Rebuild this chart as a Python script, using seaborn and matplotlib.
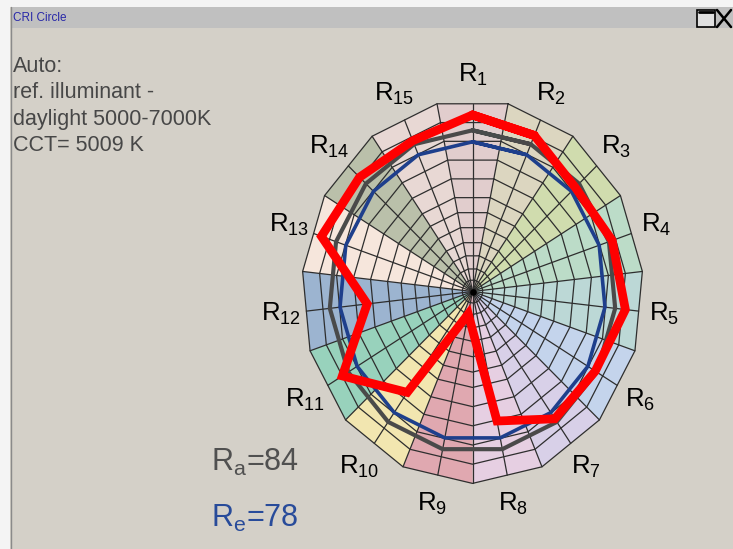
import numpy as np
import pandas as pd
import matplotlib
matplotlib.use("Agg")
import matplotlib.pyplot as plt
from matplotlib.patches import Rectangle
from matplotlib.lines import Line2D
import seaborn as sns

# Special colour rendering indices of the test colour samples
sample_ids = [str(i) for i in range(1, 16)]
r_values = [92, 89, 81, 86, 90, 83, 82, 69, 12, 65, 88, 62, 93, 89, 86]
ra_value = 84
re_value = 78

# Pastel tint of each test colour sample, R1..R15
sector_colors = ["#e1cdcd", "#dcd6c0", "#d0dcae", "#bcdcc8", "#bcd8d6",
                 "#c4d4ec", "#d8d0e8", "#e6cfe2", "#e0a8b0", "#f2e6b0",
                 "#98d2bc", "#9cb4d0", "#f6e6dc", "#bac0aa", "#e8d8d4"]

# Radial grid levels of the web
grid_levels = [6, 12, 19, 26, 34, 42, 50, 60, 70, 80, 90, 100]

info_lines = ["Auto:", "ref. illuminant -", "daylight 5000-7000K", "CCT= 5009 K"]
window_title = "CRI Circle"

sns.set_theme(style="white")
plt.rcParams["font.family"] = ["Liberation Sans", "DejaVu Sans"]
plt.rcParams["mathtext.default"] = "regular"

W, H = 733, 549
BG = "#d4d0c8"
fig = plt.figure(figsize=(W / 100, H / 100), dpi=100)
fig.patch.set_facecolor(BG)

# Chart centre and scale (pixels per index unit), slightly squashed horizontally
cx, cy = 472.5, 291.5
sy = 1.919
sx = 1.708
ax = fig.add_axes([0, 0, 1, 1])
ax.set_facecolor(BG)

n = len(sample_ids)
step = 360.0 / n
centers = np.deg2rad(np.arange(n) * step)
bounds = np.deg2rad(np.arange(n) * step + step / 2)
half = np.deg2rad(step / 2)


def xy(r, th):
    return np.asarray(r) * np.sin(th), np.asarray(r) * np.cos(th)


# Coloured sectors
for i in range(n):
    x0, y0 = xy(100, bounds[i - 1])
    x1, y1 = xy(100, bounds[i])
    ax.fill([0, x0, x1], [0, y0, y1], color=sector_colors[i], lw=0, zorder=1)

# Web rings and spokes
grid_kw = dict(color="#2e2e2e", lw=0.9, zorder=2)
for lev in grid_levels:
    gx, gy = xy(lev, np.append(bounds, bounds[0]))
    ax.plot(gx, gy, **grid_kw)
for th in bounds:
    ax.plot(*[[0, v] for v in xy(100, th)], **grid_kw)
for th in centers:
    ax.plot(*[[0, v] for v in xy(100 * np.cos(half), th)], **grid_kw)
ax.scatter([0], [0], s=14, color="black", zorder=3)


def ring_frame(values):
    idx = list(range(n)) + [0, 1]
    vals = np.asarray(values, dtype=float)
    px, py = xy(vals[idx], centers[idx])
    return pd.DataFrame({"x": px, "y": py})


ra_df = ring_frame([ra_value] * n)
re_df = ring_frame([re_value] * n)
ri_df = ring_frame(r_values)

sns.lineplot(data=ra_df, x="x", y="y", sort=False, estimator=None, ax=ax,
             color="#4a4a4a", linewidth=3.0, solid_joinstyle="miter", zorder=4)
sns.lineplot(data=re_df, x="x", y="y", sort=False, estimator=None, ax=ax,
             color="#1e3f8c", linewidth=2.6, solid_joinstyle="miter", zorder=5)
sns.lineplot(data=ri_df, x="x", y="y", sort=False, estimator=None, ax=ax,
             color="#ff0000", linewidth=6.3, solid_joinstyle="miter", zorder=6)
ax.set_xlim(-cx / sx, (W - cx) / sx)
ax.set_ylim(-(H - cy) / sy, cy / sy)
ax.axis("off")

# Sample labels around the web
for sid, th in zip(sample_ids, centers):
    lx, ly = xy(113, th)
    ax.text(lx, ly, f"R$_{{{sid}}}$", ha="center", va="center",
            fontsize=18.5, color="black", zorder=7)

# Window frame
fig.add_artist(Rectangle((0, 1 - 7 / H), 1, 7 / H, transform=fig.transFigure,
                         color="#f4f4f4", lw=0))
fig.add_artist(Rectangle((0, 0), 10 / W, 1, transform=fig.transFigure,
                         color="#f4f4f4", lw=0))
fig.add_artist(Line2D([11 / W, 11 / W], [0, 1 - 7 / H], transform=fig.transFigure,
                      color="#8a8a8a", lw=1))
fig.add_artist(Rectangle((11 / W, 1 - 28 / H), 1, 21 / H, transform=fig.transFigure,
                         color="#c0c0c0", lw=0))
fig.text(13 / W, 1 - 18 / H, window_title, ha="left", va="center",
         fontsize=8.5, color="#2828a8")
fig.add_artist(Rectangle((697 / W, 1 - 27 / H), 18 / W, 17 / H,
                         transform=fig.transFigure, facecolor="#e0e0e0",
                         edgecolor="black", lw=1.2))
fig.add_artist(Line2D([699 / W, 713 / W], [1 - 12 / H, 1 - 12 / H],
                      transform=fig.transFigure, color="black", lw=2))
fig.add_artist(Line2D([717 / W, 731 / W], [1 - 10 / H, 1 - 27 / H],
                      transform=fig.transFigure, color="black", lw=1.8))
fig.add_artist(Line2D([717 / W, 731 / W], [1 - 27 / H, 1 - 10 / H],
                      transform=fig.transFigure, color="black", lw=1.8))

# Reference information
fig.text(13 / W, 1 - 56 / H, "\n".join(info_lines), ha="left", va="top",
         fontsize=15.5, linespacing=1.33, color="#474747")

# Averaged indices
fig.text(211 / W, 1 - 471 / H, f"R$_a$={ra_value}", ha="left", va="baseline",
         fontsize=22, color="#505050")
fig.text(211 / W, 1 - 527 / H, f"R$_e$={re_value}", ha="left", va="baseline",
         fontsize=22, color="#284b9a")

fig.savefig("out.png", dpi=100, facecolor=fig.get_facecolor())
